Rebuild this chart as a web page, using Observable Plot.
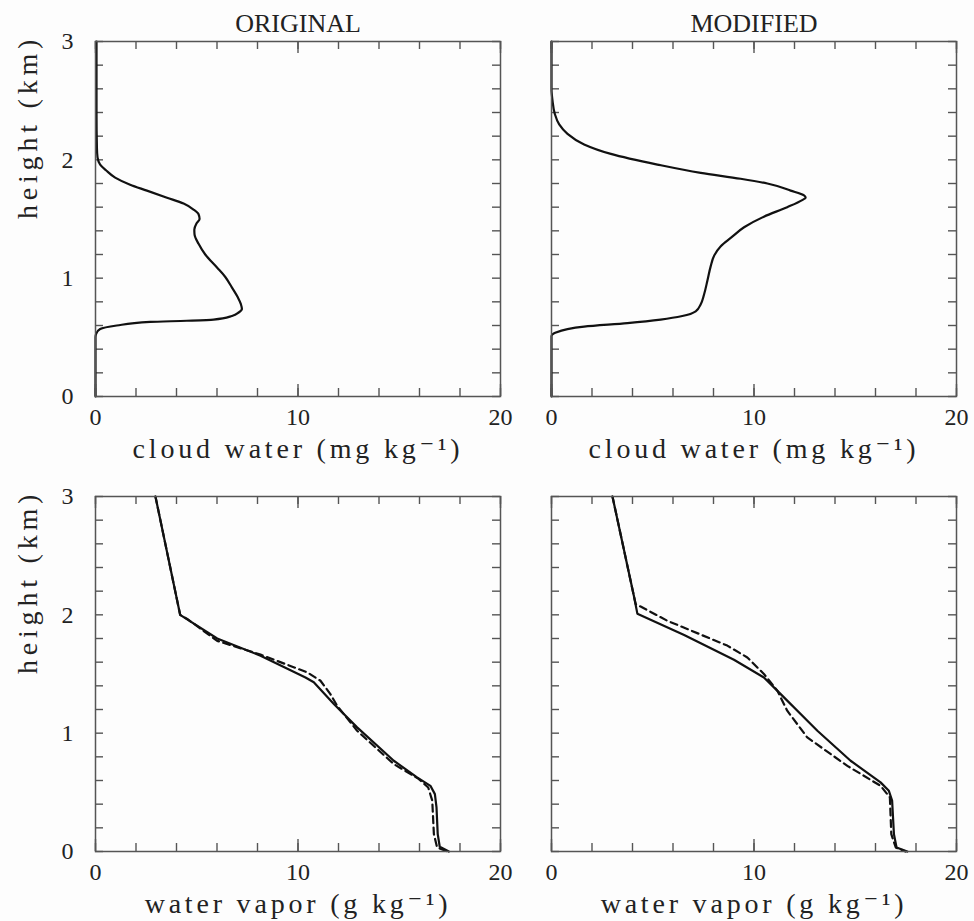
<!DOCTYPE html>
<html>
<head>
<meta charset="utf-8">
<script src="https://cdn.jsdelivr.net/npm/d3@7"></script>
<script src="https://cdn.jsdelivr.net/npm/@observablehq/plot@0.6"></script>
<style>
  html, body { margin: 0; padding: 0; background: #fdfdfd; }
  #chart { position: relative; width: 974px; height: 921px; background: #fdfdfd; }
  #chart > svg { position: absolute; background: transparent; }
</style>
</head>
<body>
<div id="chart"></div>
<script>
// ---------- data ----------
const panelTitles = ["ORIGINAL", "MODIFIED"];
const xLabelTop = "cloud water (mg kg⁻¹)";
const xLabelBottom = "water vapor (g kg⁻¹)";
const yLabel = "height (km)";
const xTickLabels = [0, 10, 20];
const yTickLabels = [0, 1, 2, 3];
const xTickMarks = [0, 2, 4, 6, 8, 10, 12, 14, 16, 18, 20];
const xMajorTickMarks = [0, 10, 20];
const yTickMarks = [0, 0.2, 0.4, 0.6, 0.8, 1.0, 1.2, 1.4, 1.6, 1.8, 2.0, 2.2, 2.4, 2.6, 2.8, 3.0];

// cloud water, original (mg/kg)
const cwOrigHeight = [3.0, 2.4, 2.1, 2.02, 1.96, 1.91, 1.85, 1.79, 1.74, 1.68, 1.63, 1.58, 1.54, 1.50, 1.46, 1.41, 1.37, 1.29, 1.20, 1.09, 1.01, 0.92, 0.84, 0.78, 0.74, 0.71, 0.68, 0.65, 0.64, 0.63, 0.60, 0.57, 0.53, 0.50, 0.0];
const cwOrigValue  = [0.05, 0.05, 0.07, 0.10, 0.23, 0.53, 0.97, 1.71, 2.54, 3.53, 4.35, 4.84, 5.09, 5.14, 4.98, 4.88, 4.89, 5.09, 5.42, 6.00, 6.41, 6.74, 7.02, 7.18, 7.23, 7.07, 6.74, 5.83, 4.51, 2.70, 1.05, 0.23, 0.03, 0.0, 0.0];

// cloud water, modified (mg/kg)
const cwModHeight = [3.0, 2.6, 2.5, 2.39, 2.30, 2.22, 2.13, 2.05, 1.96, 1.89, 1.84, 1.80, 1.74, 1.70, 1.68, 1.66, 1.60, 1.52, 1.43, 1.34, 1.27, 1.19, 1.10, 0.98, 0.86, 0.78, 0.72, 0.68, 0.65, 0.62, 0.59, 0.57, 0.54, 0.51, 0.0];
const cwModValue  = [0.0, 0.0, 0.05, 0.16, 0.38, 0.79, 1.61, 2.93, 5.23, 7.37, 9.34, 10.66, 11.81, 12.47, 12.55, 12.38, 11.64, 10.49, 9.51, 8.85, 8.36, 8.03, 7.86, 7.70, 7.53, 7.37, 7.12, 6.46, 5.39, 3.75, 1.61, 0.79, 0.21, 0.0, 0.0];

// water vapor, original (g/kg): solid and dashed
const wvOrigSolidHeight = [3.0, 2.0, 1.80, 1.655, 1.47, 1.43, 1.246, 1.049, 0.767, 0.626, 0.555, 0.485, 0.372, 0.147, 0.04, 0.0];
const wvOrigSolidValue  = [2.96, 4.18, 6.01, 8.15, 10.37, 10.78, 11.77, 12.92, 14.73, 15.88, 16.54, 16.76, 16.84, 16.90, 17.00, 17.45];
const wvOrigDashHeight  = [3.0, 2.0, 1.965, 1.78, 1.664, 1.514, 1.443, 1.33, 1.232, 1.02, 0.739, 0.612, 0.541, 0.43, 0.147, 0.034, 0.0];
const wvOrigDashValue   = [2.96, 4.18, 4.53, 6.01, 8.15, 10.45, 11.11, 11.60, 11.93, 12.92, 14.73, 15.97, 16.43, 16.63, 16.71, 16.87, 17.37];

// water vapor, modified (g/kg): solid and dashed
const wvModSolidHeight = [3.0, 2.15, 2.01, 1.83, 1.62, 1.47, 1.33, 1.02, 0.767, 0.584, 0.513, 0.43, 0.147, 0.034, 0.0];
const wvModSolidValue  = [3.01, 4.08, 4.24, 6.55, 9.01, 10.49, 11.32, 13.13, 14.77, 16.25, 16.66, 16.82, 16.91, 17.04, 17.57];
const wvModDashHeight  = [3.0, 2.15, 2.09, 2.07, 1.95, 1.74, 1.64, 1.50, 1.36, 1.19, 0.964, 0.724, 0.555, 0.457, 0.147, 0.034, 0.0];
const wvModDashValue   = [3.01, 4.08, 4.16, 4.40, 5.72, 8.68, 9.67, 10.49, 11.15, 11.64, 12.63, 14.61, 16.25, 16.71, 16.78, 17.00, 17.48];

// ---------- drawing ----------
const FONT = "'Liberation Serif', 'DejaVu Serif', serif";
const frameW = 405, frameH = 355;

function rows(xs, ys) { return xs.map((x, i) => ({x, y: ys[i]})); }

function panel({left, top, marginLeft, marginRight, marginBottom, title, xlabel, showY, series, curve}) {
  const marks = [];
  const tickStyle = {stroke: "#555", strokeWidth: 1.4};
  // tick marks (inward) on all four sides
  marks.push(Plot.ruleX(xTickMarks, {x: d => d, insetBottom: frameH - 8, ...tickStyle}));
  marks.push(Plot.ruleX(xTickMarks, {x: d => d, insetTop: frameH - 8, ...tickStyle}));
  marks.push(Plot.ruleX(xMajorTickMarks, {x: d => d, insetBottom: frameH - 12, ...tickStyle}));
  marks.push(Plot.ruleX(xMajorTickMarks, {x: d => d, insetTop: frameH - 12, ...tickStyle}));
  marks.push(Plot.ruleY(yTickMarks, {y: d => d, insetRight: frameW - 8, ...tickStyle}));
  marks.push(Plot.ruleY(yTickMarks, {y: d => d, insetLeft: frameW - 8, ...tickStyle}));
  // data
  for (const s of series) {
    marks.push(Plot.line(rows(s.x, s.y), {x: "x", y: "y", stroke: "#111", strokeWidth: 2.2, curve, strokeDasharray: s.dash ? "7,4.5" : null}));
  }
  marks.push(Plot.frame({stroke: "#555", strokeWidth: 1.5}));
  // axes labels
  marks.push(Plot.axisX(xTickLabels, {anchor: "bottom", label: null, tickSize: 0, tickPadding: 11, fontSize: 24, fill: "#222", tickFormat: d => String(d)}));
  if (showY) {
    marks.push(Plot.axisY(yTickLabels, {anchor: "left", label: null, tickSize: 0, tickPadding: 22, fontSize: 24, fill: "#222", tickFormat: d => String(d)}));
    marks.push(Plot.text([yLabel], {frameAnchor: "left", dx: -67, rotate: -90, lineAnchor: "middle", fontSize: 28, fill: "#222"}));
  }
  if (title) {
    marks.push(Plot.text([title], {frameAnchor: "top", dy: -10, lineAnchor: "bottom", fontSize: 26, fill: "#222"}));
  }
  marks.push(Plot.text([xlabel], {frameAnchor: "bottom", dy: 61, lineAnchor: "bottom", fontSize: 28, fill: "#222"}));

  const svg = Plot.plot({
    width: marginLeft + frameW + marginRight,
    height: 41 + frameH + marginBottom,
    marginLeft, marginRight, marginTop: 41, marginBottom,
    x: {domain: [0, 20], axis: null, label: null},
    y: {domain: [0, 3], axis: null, label: null},
    style: {fontFamily: FONT, fontSize: "24px", background: "transparent", color: "#222"},
    marks
  });
  d3.select(svg).selectAll("text")
    .filter(function() { return this.textContent === xLabelTop || this.textContent === xLabelBottom; })
    .style("letter-spacing", "3.8px");
  d3.select(svg).selectAll("text")
    .filter(function() { return this.textContent === yLabel; })
    .style("letter-spacing", "4.8px");
  svg.style.left = left + "px";
  svg.style.top = top + "px";
  document.getElementById("chart").appendChild(svg);
}

panel({left: 0, top: 0, marginLeft: 95, marginRight: 20, marginBottom: 70, title: panelTitles[0], xlabel: xLabelTop, showY: true,
  curve: "monotone-y", series: [{x: cwOrigValue, y: cwOrigHeight}]});
panel({left: 520, top: 0, marginLeft: 31, marginRight: 18, marginBottom: 70, title: panelTitles[1], xlabel: xLabelTop, showY: false,
  curve: "monotone-y", series: [{x: cwModValue, y: cwModHeight}]});
panel({left: 0, top: 455, marginLeft: 95, marginRight: 20, marginBottom: 70, title: null, xlabel: xLabelBottom, showY: true,
  curve: "linear", series: [{x: wvOrigDashValue, y: wvOrigDashHeight, dash: true}, {x: wvOrigSolidValue, y: wvOrigSolidHeight}]});
panel({left: 520, top: 455, marginLeft: 31, marginRight: 18, marginBottom: 70, title: null, xlabel: xLabelBottom, showY: false,
  curve: "linear", series: [{x: wvModDashValue, y: wvModDashHeight, dash: true}, {x: wvModSolidValue, y: wvModSolidHeight}]});
</script>
</body>
</html>
